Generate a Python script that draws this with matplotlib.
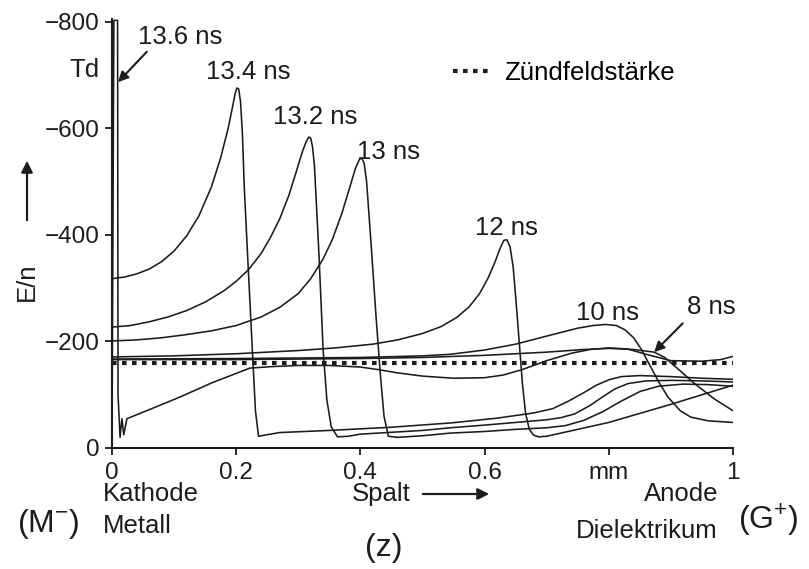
import matplotlib
matplotlib.use("Agg")
import matplotlib.pyplot as plt

plt.rcParams['font.family'] = ['Liberation Sans', 'DejaVu Sans']
plt.rcParams['mathtext.fontset'] = 'custom'
plt.rcParams['mathtext.rm'] = 'Liberation Sans'

INK = '#1c1c1c'

# reduced field E/n (Td) across the 1 mm gap, cathode at z = 0
z_136 = [0.0, 0.003, 0.009, 0.0097, 0.013, 0.016, 0.019, 0.024, 0.06, 0.11, 0.16, 0.222,
         0.26, 0.3, 0.35, 0.4, 0.43, 0.46, 0.5, 0.55, 0.6, 0.63, 0.66, 0.7, 0.74, 0.77, 0.8,
         0.83, 0.86, 0.9, 0.95, 0.98, 1.0]
e_136 = [-20, -803, -803, -100, -20, -55, -25, -55, -72, -96, -122, -150,
         -153, -155, -155, -152, -147, -141, -135, -131, -132, -137, -147, -164, -178, -185, -188,
         -186, -176, -164, -163, -166, -172]

z_134 = [0.0, 0.02, 0.04, 0.06, 0.08, 0.1, 0.12, 0.14, 0.16, 0.175, 0.187, 0.194, 0.198,
         0.201, 0.204, 0.207, 0.21, 0.213, 0.218, 0.226, 0.231, 0.236, 0.245, 0.27, 0.35, 0.45,
         0.545, 0.62, 0.68, 0.71, 0.735, 0.76, 0.78, 0.8, 0.82, 0.85, 0.9, 0.95, 1.0]
e_134 = [-318, -321, -327, -336, -350, -370, -398, -436, -490, -545, -600, -640, -664,
         -676, -674, -650, -590, -490, -370, -184, -70, -22, -24, -29, -33, -39,
         -47, -56, -66, -74, -88, -104, -118, -128, -134, -136, -134, -131, -129]

z_132 = [0.0, 0.03, 0.06, 0.09, 0.12, 0.15, 0.18, 0.2, 0.22, 0.24, 0.255, 0.27, 0.285,
         0.297, 0.307, 0.313, 0.317, 0.32, 0.323, 0.326, 0.333, 0.34, 0.346, 0.353, 0.363,
         0.38, 0.4, 0.5, 0.545, 0.6, 0.65, 0.7, 0.723, 0.745, 0.77, 0.79, 0.81, 0.831,
         0.86, 0.9, 0.95, 1.0]
e_132 = [-227, -230, -237, -246, -258, -274, -295, -313, -335, -365, -395, -430, -475,
         -520, -558, -576, -584, -582, -565, -530, -370, -184, -90, -40, -21,
         -22, -26, -33, -38, -43, -48, -53, -57, -64, -80, -96, -111, -121,
         -126, -127, -126, -124]

z_130 = [0.0, 0.04, 0.08, 0.12, 0.16, 0.2, 0.24, 0.27, 0.3, 0.32, 0.34, 0.355, 0.37, 0.383,
         0.392, 0.398, 0.402, 0.406, 0.41, 0.418, 0.425, 0.432, 0.438, 0.445, 0.46, 0.5,
         0.545, 0.6, 0.65, 0.7, 0.73, 0.76, 0.79, 0.82, 0.85, 0.88, 0.92, 0.96, 1.0]
e_130 = [-201, -203, -207, -213, -220, -230, -246, -264, -290, -318, -355, -392, -440, -490,
         -525, -541, -545, -535, -500, -370, -250, -140, -60, -22, -20, -23,
         -28, -31, -35, -38, -42, -52, -68, -88, -106, -116, -120, -119, -116]

z_120 = [0.0, 0.1, 0.2, 0.3, 0.36, 0.42, 0.46, 0.5, 0.53, 0.555, 0.575, 0.592, 0.606, 0.617,
         0.625, 0.631, 0.636, 0.641, 0.646, 0.651, 0.656, 0.661, 0.666, 0.672, 0.679, 0.687,
         0.7, 0.723, 0.8, 0.9, 1.0]
e_120 = [-171, -173, -177, -183, -188, -195, -203, -215, -228, -245, -265, -290, -320, -350,
         -375, -390, -391, -378, -340, -270, -195, -120, -65, -35, -24, -21,
         -22, -28, -48, -82, -118]

z_100 = [0.0, 0.2, 0.4, 0.5, 0.545, 0.6, 0.65, 0.706, 0.75, 0.775, 0.795, 0.812, 0.826,
         0.84, 0.852, 0.863, 0.88, 0.895, 0.915, 0.932, 0.96, 1.0]
e_100 = [-167, -168, -170, -173, -176, -184, -195, -212, -225, -230, -232, -230, -222,
         -207, -186, -162, -125, -96, -70, -58, -51, -48]

z_080 = [0.0, 0.2, 0.4, 0.5, 0.6, 0.7, 0.76, 0.8, 0.84, 0.873, 0.89, 0.91, 0.937, 0.97, 1.0]
e_080 = [-166, -166, -168, -170, -174, -180, -185, -187, -185, -180, -170, -150, -122, -92, -70]

z_ign = [0.0, 1.0]
e_ign = [-160, -160]

profiles = [(z_136, e_136), (z_134, e_134), (z_132, e_132), (z_130, e_130),
            (z_120, e_120), (z_100, e_100), (z_080, e_080)]

# time labels: text, z, E/n
time_labels = [("13.6 ns", 0.11, -772), ("13.4 ns", 0.219, -706), ("13.2 ns", 0.327, -622),
               ("13 ns", 0.445, -556), ("12 ns", 0.635, -413), ("10 ns", 0.798, -253),
               ("8 ns", 0.965, -265)]

x_ticks = [0, 0.2, 0.4, 0.6, 0.8, 1.0]
x_ticklabels = ["0", "0.2", "0.4", "0.6", "mm", "1"]
y_ticks = [0, -200, -400, -600, -800]

W, H = 809, 569
fig = plt.figure(figsize=(W / 100, H / 100), dpi=100)
ax = fig.add_axes([112 / W, 1 - 448 / H, 621 / W, (448 - 19.3) / H])

for z, e in profiles:
    ax.plot(z, e, color=INK, lw=1.15, solid_joinstyle='round')
ax.plot(z_ign, e_ign, color=INK, lw=3.0, linestyle=(0, (1.1, 1.3)),
        label="Zündfeldstärke", zorder=3)

ax.set_xlim(0, 1)
ax.set_ylim(0, -805)
ax.set_xticks(x_ticks)
ax.set_xticklabels(x_ticklabels)
ax.set_yticks(y_ticks)
for side in ("top", "right"):
    ax.spines[side].set_visible(False)
for side in ("left", "bottom"):
    ax.spines[side].set_linewidth(1.5)
    ax.spines[side].set_color(INK)
ax.tick_params(direction="out", length=5, width=1.3, colors=INK, labelsize=17.5)
ax.tick_params(axis="y", pad=4)
ax.tick_params(axis="x", pad=5)

for txt, z, e in time_labels:
    ax.text(z, e, txt, ha="center", va="center", fontsize=18.5, color=INK)

arrow = dict(arrowstyle="-|>", lw=1.5, color=INK, mutation_scale=15, shrinkA=0, shrinkB=0)
ax.annotate("", xy=(0.0097, -687), xytext=(0.056, -744), arrowprops=arrow)
ax.annotate("", xy=(0.873, -180), xytext=(0.919, -234), arrowprops=arrow)

ax.legend(loc="center left", bbox_to_anchor=((453 - 112) / 621, (448 - 73) / 428.7),
          frameon=False, fontsize=18.5, handlelength=1.55, handletextpad=0.45,
          borderpad=0, borderaxespad=0)

def fx(px):
    return px / W

def fy(py):
    return 1 - py / H

fig.text(fx(84), fy(70), "Td", ha="center", va="center", fontsize=18.5, color=INK)
fig.text(fx(27), fy(282), "E/n", ha="center", va="center", rotation=90, fontsize=18.5, color=INK)
fig.add_artist(matplotlib.patches.FancyArrowPatch(
    (fx(27), fy(223)), (fx(27), fy(158)), transform=fig.transFigure,
    arrowstyle="-|>", mutation_scale=17, lw=1.6, color=INK))

fig.text(fx(48), fy(524), "(M$^{-}$)", ha="center", va="center", fontsize=23, color=INK)
fig.text(fx(103), fy(494), "Kathode", ha="left", va="center", fontsize=18.5, color=INK)
fig.text(fx(103), fy(526), "Metall", ha="left", va="center", fontsize=18.5, color=INK)
fig.text(fx(352), fy(494), "Spalt", ha="left", va="center", fontsize=18.5, color=INK)
fig.add_artist(matplotlib.patches.FancyArrowPatch(
    (fx(420), fy(494)), (fx(492), fy(494)), transform=fig.transFigure,
    arrowstyle="-|>", mutation_scale=17, lw=1.6, color=INK))
fig.text(fx(384), fy(548), "(z)", ha="center", va="center", fontsize=23, color=INK)
fig.text(fx(718), fy(494), "Anode", ha="right", va="center", fontsize=18.5, color=INK)
fig.text(fx(718), fy(531), "Dielektrikum", ha="right", va="center", fontsize=18.5, color=INK)
fig.text(fx(768), fy(520), "(G$^{+}$)", ha="center", va="center", fontsize=23, color=INK)

fig.savefig("out.png", dpi=100)
